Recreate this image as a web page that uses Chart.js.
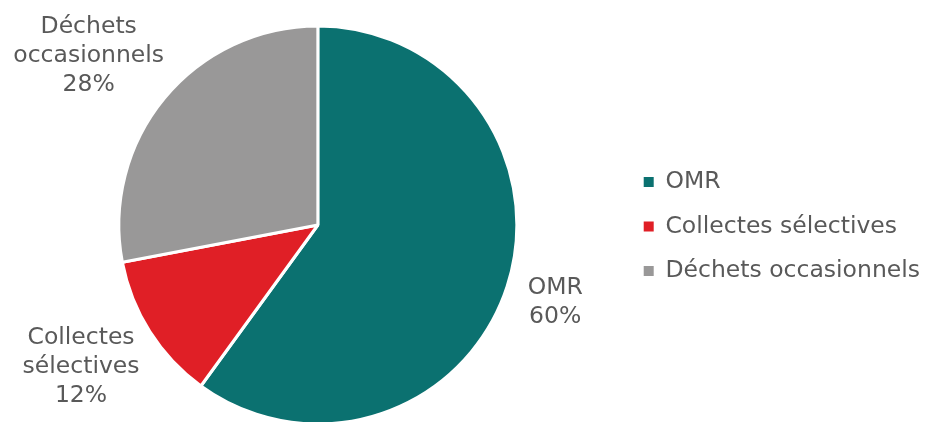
<!DOCTYPE html>
<html lang="fr">
<head>
<meta charset="utf-8">
<title>Répartition des déchets</title>
<script src="https://cdn.jsdelivr.net/npm/chart.js@4/dist/chart.umd.min.js"></script>
<style>
    html, body { margin: 0; padding: 0; background: #fff; }
    #wrap { width: 926px; height: 422px; position: relative; }
</style>
</head>
<body>
<div id="wrap"><canvas id="dechetsChart"></canvas></div>
<script>
// Données
const categories = ['OMR', 'Collectes sélectives', 'Déchets occasionnels'];
const valeurs = [60, 12, 28];
const couleurs = ['#0b7170', '#e01f26', '#999898'];

const policeTexte = 'DejaVu Sans, Verdana, sans-serif';
const couleurTexte = '#595959';
const tailleTexte = 23.5;

// Étiquettes à l'extérieur de chaque part : nom sur plusieurs lignes puis pourcentage
const etiquettesExterieures = {
    id: 'etiquettesExterieures',
    afterDatasetsDraw(chart) {
        const ctx = chart.ctx;
        const meta = chart.getDatasetMeta(0);
        const data = chart.data.datasets[0].data;
        const total = data.reduce((a, b) => a + b, 0);
        const ecart = 23;
        const hauteurLigne = 29;

        ctx.save();
        ctx.font = tailleTexte + 'px ' + policeTexte;
        ctx.fillStyle = couleurTexte;
        ctx.textAlign = 'center';
        ctx.textBaseline = 'middle';

        meta.data.forEach((arc, i) => {
            const p = arc.getProps(['x', 'y', 'startAngle', 'endAngle', 'outerRadius'], true);
            const milieu = (p.startAngle + p.endAngle) / 2;
            const ux = Math.cos(milieu);
            const uy = Math.sin(milieu);

            const lignes = chart.data.labels[i].split(' ');
            lignes.push(Math.round(data[i] / total * 100) + '%');

            const demiLargeur = Math.max(...lignes.map(l => ctx.measureText(l).width)) / 2;
            const demiHauteur = lignes.length * hauteurLigne / 2;

            const cx = p.x + (p.outerRadius + ecart) * ux + demiLargeur * ux;
            const cy = p.y + (p.outerRadius + ecart) * uy + demiHauteur * uy;

            lignes.forEach((l, k) => {
                const y = cy - demiHauteur + hauteurLigne * (k + 0.5);
                ctx.fillText(l, cx, y);
            });
        });
        ctx.restore();
    }
};

const ctx = document.getElementById('dechetsChart').getContext('2d');
const dechetsChart = new Chart(ctx, {
    type: 'pie',
    data: {
        labels: categories,
        datasets: [{
            data: valeurs,
            backgroundColor: couleurs,
            borderColor: '#ffffff',
            borderWidth: 3,
            hoverOffset: 0
        }]
    },
    options: {
        responsive: true,
        maintainAspectRatio: false,
        animation: false,
        radius: 199,
        layout: {
            padding: { top: 28, bottom: -3, left: 13, right: -4 }
        },
        plugins: {
            legend: {
                position: 'right',
                labels: {
                    boxWidth: 10,
                    boxHeight: 10,
                    padding: 21,
                    color: couleurTexte,
                    font: { family: policeTexte, size: tailleTexte },
                    generateLabels(chart) {
                        const items = Chart.overrides.pie.plugins.legend.labels.generateLabels(chart);
                        return items.map(it => Object.assign(it, { lineWidth: 0, strokeStyle: 'rgba(0,0,0,0)' }));
                    }
                }
            },
            tooltip: { enabled: false }
        }
    },
    plugins: [etiquettesExterieures]
});
</script>
</body>
</html>
